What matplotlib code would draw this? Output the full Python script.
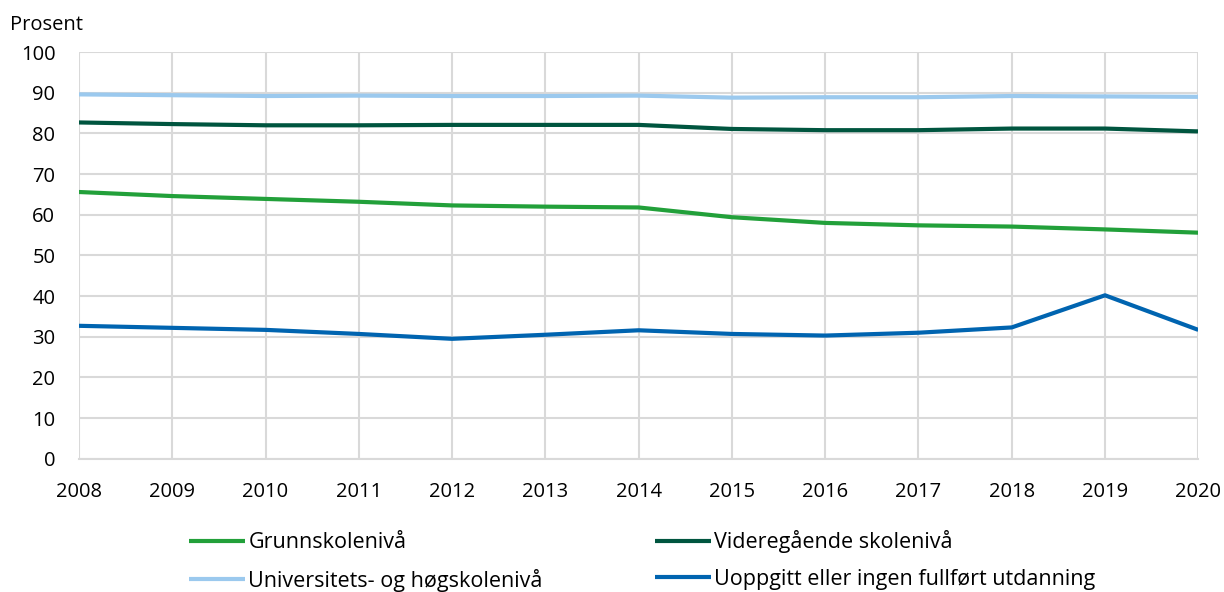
import matplotlib
matplotlib.use("Agg")
import matplotlib.pyplot as plt

plt.rcParams["font.family"] = ["Open Sans", "DejaVu Sans"]

years = list(range(2008, 2021))
grunnskole = [65.6, 64.6, 63.9, 63.2, 62.3, 62.0, 61.8, 59.4, 58.0, 57.4, 57.1, 56.4, 55.6]
videregaende = [82.7, 82.3, 82.0, 82.0, 82.1, 82.1, 82.1, 81.1, 80.8, 80.8, 81.2, 81.2, 80.5]
universitet = [89.6, 89.4, 89.2, 89.3, 89.2, 89.2, 89.3, 88.8, 88.9, 88.9, 89.2, 89.1, 89.0]
uoppgitt = [32.7, 32.2, 31.7, 30.7, 29.5, 30.5, 31.6, 30.7, 30.3, 31.0, 32.3, 40.2, 31.7]

labels = ["Grunnskolenivå", "Videregående skolenivå",
          "Universitets- og høgskolenivå", "Uoppgitt eller ingen fullført utdanning"]
colors = ["#22a03a", "#00553f", "#9bc9ee", "#0064b0"]
series = [grunnskole, videregaende, universitet, uoppgitt]

fig = plt.figure(figsize=(12.24, 5.92), dpi=100)
ax = fig.add_axes([0.0645, 0.225, 0.9145, 0.687])

for vals, col, lab in zip(series, colors, labels):
    ax.plot(years, vals, color=col, linewidth=3, label=lab, solid_capstyle="butt")

ax.set_xlim(2008, 2020)
ax.set_ylim(0, 100)
ax.set_xticks(years)
ax.set_yticks(range(0, 101, 10))
ax.grid(True, color="#d9d9d9", linewidth=1.5)
ax.set_axisbelow(True)
for s in ax.spines.values():
    s.set_visible(False)
ax.spines["bottom"].set_visible(True)
ax.spines["bottom"].set_color("#d9d9d9")
ax.spines["bottom"].set_linewidth(1.5)
ax.tick_params(axis="both", length=0, labelsize=14.5, colors="#000000")
ax.tick_params(axis="x", pad=17)
ax.tick_params(axis="y", pad=17)

fig.text(0.008, 0.958, "Prosent", fontsize=14.5, va="center", ha="left")

handles, labs = ax.get_legend_handles_labels()
order = [0, 2, 1, 3]
fig.legend([handles[i] for i in order], [labs[i] for i in order],
           loc="upper left", bbox_to_anchor=(0.1545, 0.104), ncol=2,
           frameon=False, fontsize=15.5, handlelength=2.6, handletextpad=0.15,
           columnspacing=5.2, labelspacing=0.72, borderpad=0, borderaxespad=0)

fig.savefig("out.png", dpi=100)
